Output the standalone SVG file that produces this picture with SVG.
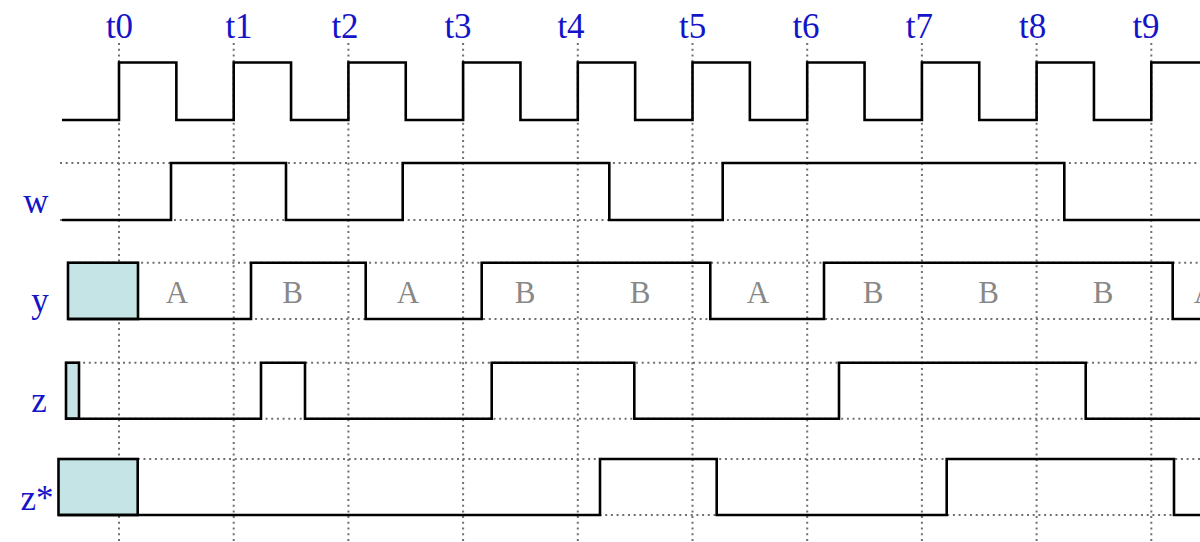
<svg xmlns="http://www.w3.org/2000/svg" width="1200" height="542" viewBox="0 0 1200 542">
<style>
.grid{stroke:#707070;stroke-width:2;stroke-dasharray:2 3.7;fill:none}
.sig{stroke:#000;stroke-width:2.6;fill:none;stroke-linejoin:miter}
.shade{fill:#c4e4e6;stroke:#000;stroke-width:2.6}
.blue{font-family:"Liberation Serif",serif;font-size:35px;fill:#1414c8;text-anchor:middle}
.val{font-family:"Liberation Serif",serif;font-size:31px;fill:#888;text-anchor:middle}
</style>
<rect width="1200" height="542" fill="#fff"/>
<g id="grid">
<path class="grid" d="M119,43V542M233.7,43V542M348.4,43V542M463.1,43V542M577.8,43V542M692.5,43V542M807.2,43V542M921.9,43V542M1036.6,43V542M1151.3,43V542"/>
<path class="grid" d="M60,163H1200M60,220H1200M67,262.7H1200M67,319H1200M66,362.7H1200M66,418.7H1200M58,459H1200M58,515H1200"/>
</g>
<g id="time-labels">
<text class="blue" x="119.5" y="38">t0</text>
<text class="blue" x="239" y="38">t1</text>
<text class="blue" x="345" y="38">t2</text>
<text class="blue" x="458" y="38">t3</text>
<text class="blue" x="571" y="38">t4</text>
<text class="blue" x="692.7" y="38">t5</text>
<text class="blue" x="806" y="38">t6</text>
<text class="blue" x="919.3" y="38">t7</text>
<text class="blue" x="1032.7" y="38">t8</text>
<text class="blue" x="1146" y="38">t9</text>
</g>
<g id="clock">
<path class="sig" d="M62,120H119V62.5H176.35V120H233.7V62.5H291.05V120H348.4V62.5H405.75V120H463.1V62.5H520.45V120H577.8V62.5H635.15V120H692.5V62.5H749.85V120H807.2V62.5H864.55V120H921.9V62.5H979.25V120H1036.6V62.5H1093.95V120H1151.3V62.5H1200"/>
</g>
<g id="w">
<text class="blue" x="36" y="213">w</text>
<path class="sig" d="M62,220H171V163H286V220H402.7V163H609.3V220H722.7V163H1064.3V220H1200"/>
</g>
<g id="y">
<text class="blue" x="40" y="312">y</text>
<rect class="shade" x="68" y="262.7" width="70" height="56.3"/>
<path class="sig" d="M68,319H251V262.7H365.7V319H481.7V262.7H710.3V319H824V262.7H1172.7V319H1200"/>
<text class="val" x="177" y="303">A</text>
<text class="val" x="292.7" y="303">B</text>
<text class="val" x="408" y="303">A</text>
<text class="val" x="525" y="303">B</text>
<text class="val" x="640" y="303">B</text>
<text class="val" x="758" y="303">A</text>
<text class="val" x="873" y="303">B</text>
<text class="val" x="988.7" y="303">B</text>
<text class="val" x="1103" y="303">B</text>
<text class="val" x="1205" y="303">A</text>
</g>
<g id="z">
<text class="blue" x="39" y="412">z</text>
<rect class="shade" x="66" y="362.7" width="13" height="56"/>
<path class="sig" d="M66,418.7H261V362.7H305V418.7H491.7V362.7H634.3V418.7H839V362.7H1085.7V418.7H1200"/>
</g>
<g id="zstar">
<text class="blue" x="37" y="510">z*</text>
<rect class="shade" x="58.5" y="459" width="79.2" height="56"/>
<path class="sig" d="M58.5,515H600V459H716.7V515H946.7V459H1174V515H1200"/>
</g>
</svg>
